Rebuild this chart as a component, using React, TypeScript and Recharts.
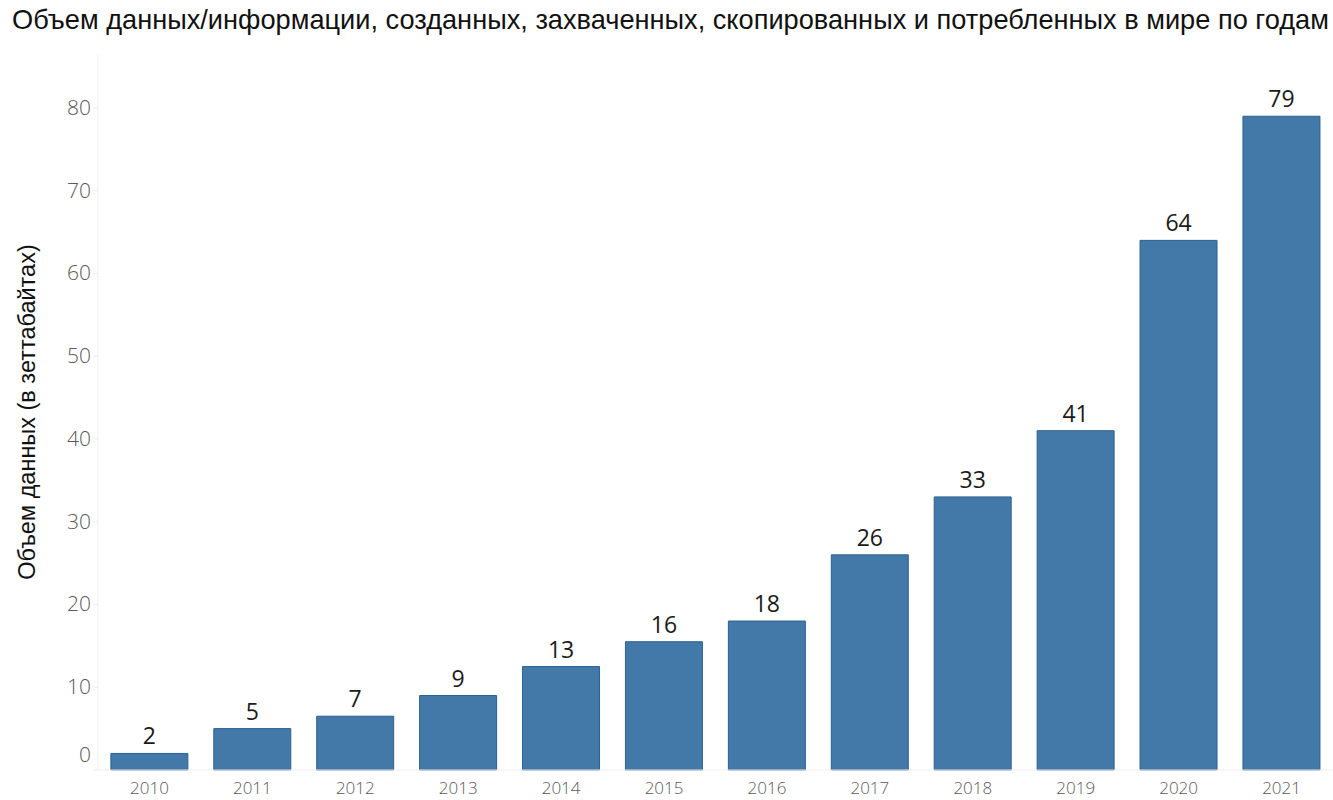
import React from "react";
import { BarChart, Bar, XAxis, YAxis, CartesianGrid, LabelList } from "recharts";

// data
const years = ["2010", "2011", "2012", "2013", "2014", "2015", "2016", "2017", "2018", "2019", "2020", "2021"];
const volumes = [2, 5, 6.5, 9, 12.5, 15.5, 18, 26, 33, 41, 64, 79];
const yTicks = [0, 10, 20, 30, 40, 50, 60, 70, 80];

const title = "Объем данных/информации, созданных, захваченных, скопированных и потребленных в мире по годам";
const yLabel = "Объем данных (в зеттабайтах)";

const chartData = years.map((year, i) => ({ year, value: volumes[i] }));

const YTick = ({ x, y, payload }: any) => (
  <text
    x={x}
    y={payload.value === 0 ? y - 15 : y}
    dy={7}
    textAnchor="end"
    fill="#595959"
    fontSize={21}
    fontWeight={300}
    fontFamily="Open Sans"
  >
    {payload.value}
  </text>
);

const App = () => {
  return (
    <div style={{ position: "absolute", left: 0, top: 0, width: 1333, height: 800, background: "#fff" }}>
      <div
        style={{
          position: "absolute",
          left: 12,
          top: 4,
          fontFamily: "Liberation Sans, Arial, sans-serif",
          fontSize: 27.2,
          color: "#111",
          whiteSpace: "nowrap",
        }}
      >
        {title}
      </div>
      <div
        style={{
          position: "absolute",
          left: 27,
          top: 412,
          transform: "translate(-50%, -50%) rotate(-90deg)",
          fontFamily: "Liberation Sans, Arial, sans-serif",
          fontSize: 23.5,
          color: "#111",
          whiteSpace: "nowrap",
        }}
      >
        {yLabel}
      </div>
      <BarChart
        width={1333}
        height={800}
        data={chartData}
        margin={{ top: 55, right: 0, left: 0, bottom: 0 }}
        barCategoryGap="12.5%"
        style={{ position: "absolute", left: 0, top: 0 }}
      >
        <CartesianGrid vertical={false} horizontal={false} />
        <XAxis
          dataKey="year"
          height={30}
          axisLine={{ stroke: "#eeeeee" }}
          tickLine={false}
          tick={{ fill: "#595959", fontSize: 17, fontWeight: 300, fontFamily: "Open Sans" }}
          tickMargin={6}
        />
        <YAxis
          width={98}
          domain={[0, 86.4]}
          ticks={yTicks}
          axisLine={{ stroke: "#f0f0f0" }}
          tickLine={{ stroke: "#eeeeee" }}
          tickSize={5}
          tick={<YTick />}
        />
        <Bar dataKey="value" fill="#4279a9" stroke="#2e6190" strokeWidth={1} isAnimationActive={false}>
          <LabelList
            dataKey="value"
            position="top"
            offset={9}
            formatter={(v: any) => Math.round(Number(v))}
            fill="#1a1a1a"
            fontSize={23}
            fontFamily="Open Sans"
          />
        </Bar>
      </BarChart>
    </div>
  );
};

export default App;
